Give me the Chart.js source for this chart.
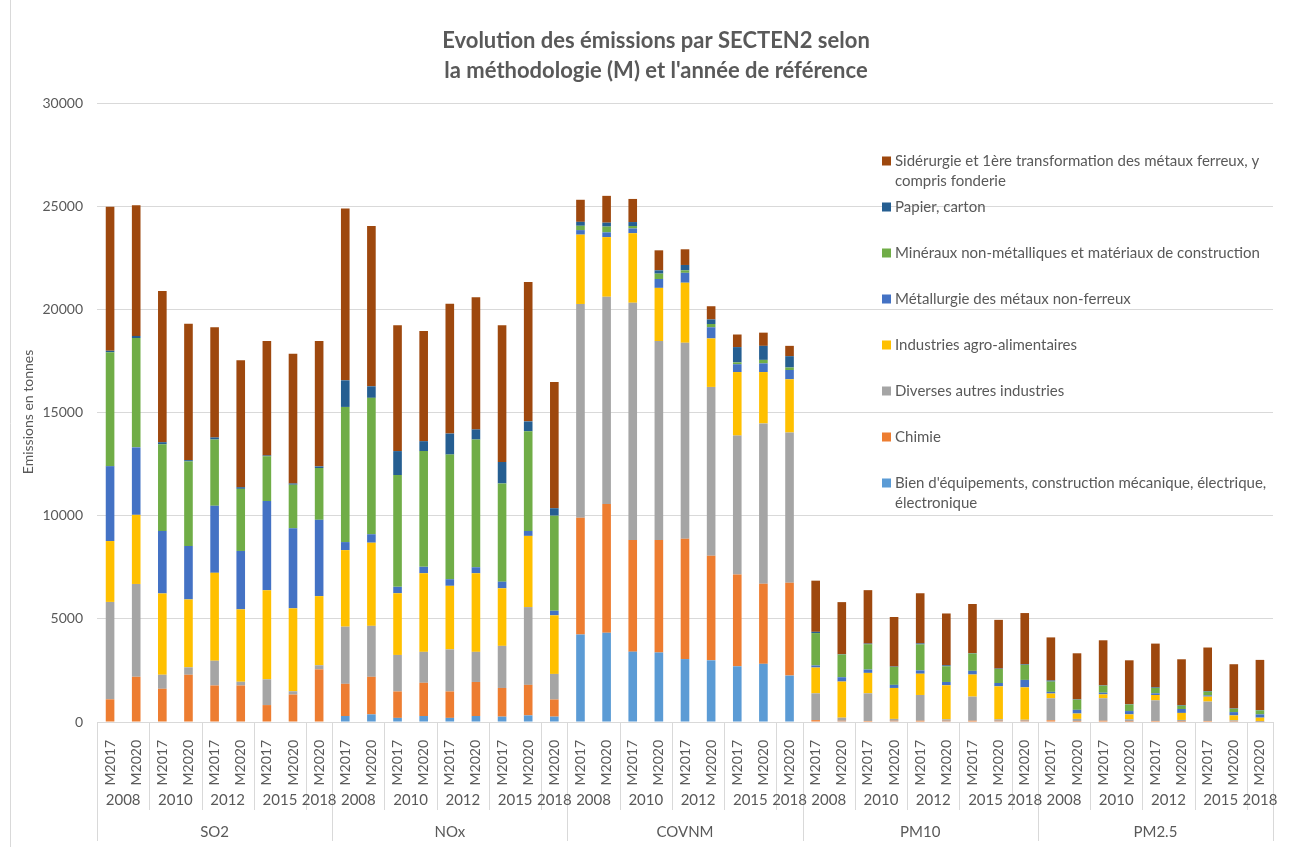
<!DOCTYPE html>
<html>
<head>
<meta charset="utf-8">
<script src="https://cdn.jsdelivr.net/npm/chart.js@4.4.0/dist/chart.umd.min.js"></script>
<style>
  html, body { margin: 0; padding: 0; background: #fff; }
  #wrap { width: 1289px; height: 847px; position: relative; }
</style>
</head>
<body>
<div id="wrap"><canvas id="chart" width="1289" height="847"></canvas></div>
<script>
// --- Data (tonnes), bars ordered SO2, NOx, COVNM, PM10, PM2.5 ---
const pollutants = ["SO2", "NOx", "COVNM", "PM10", "PM2.5"];
const years = ["2008", "2010", "2012", "2015", "2018"];
const methods = [["M2017", "M2020"], ["M2017", "M2020"], ["M2017", "M2020"], ["M2017", "M2020"], ["M2020"]];
const yTicks = [0, 5000, 10000, 15000, 20000, 25000, 30000];

const bienEquipements = [
  0, 0, 0, 0, 0, 0, 0, 0, 0,
  290, 370, 200, 290, 200, 290, 260, 320, 260,
  4240, 4330, 3410, 3370, 3050, 2990, 2700, 2820, 2250,
  0, 30, 0, 30, 0, 30, 0, 30, 30,
  0, 20, 0, 20, 0, 20, 0, 20, 10
];
const chimie = [
  1100, 2190, 1610, 2290, 1770, 1770, 820, 1330, 2550,
  1560, 1820, 1280, 1610, 1280, 1650, 1390, 1480, 830,
  5660, 6230, 5410, 5450, 5830, 5070, 4450, 3880, 4500,
  90, 30, 50, 30, 60, 30, 60, 30, 30,
  80, 30, 60, 30, 50, 30, 50, 20, 20
];
const diverses = [
  4720, 4500, 680, 360, 1200, 180, 1250, 160, 200,
  2770, 2470, 1770, 1500, 2040, 1460, 2040, 3770, 1240,
  10360, 10050, 11500, 9640, 9500, 8180, 6730, 7770, 7280,
  1300, 150, 1340, 90, 1250, 70, 1170, 70, 50,
  1070, 100, 1090, 80, 1000, 50, 940, 40, 20
];
const agroAlim = [
  2950, 3350, 3940, 3290, 4260, 3510, 4320, 4020, 3350,
  3710, 4030, 2990, 3810, 3080, 3810, 2790, 3450, 2840,
  3360, 2890, 3370, 2580, 2910, 2350, 3080, 2490, 2580,
  1250, 1750, 990, 1500, 1030, 1650, 1070, 1600, 1570,
  230, 260, 190, 240, 260, 340, 240, 240, 160
];
const metallurgie = [
  3630, 3270, 3030, 2590, 3250, 2830, 4320, 3880, 3700,
  390, 410, 310, 310, 320, 290, 320, 240, 220,
  220, 230, 230, 430, 480, 540, 380, 420, 450,
  100, 210, 160, 150, 160, 160, 180, 160, 360,
  80, 180, 80, 160, 80, 190, 60, 160, 160
];
const mineraux = [
  5520, 5300, 4200, 4100, 3210, 3010, 2170, 2110, 2510,
  6550, 6610, 5420, 5610, 6040, 6190, 4760, 4830, 4610,
  210, 280, 120, 260, 120, 160, 90, 170, 120,
  1570, 1100, 1230, 870, 1260, 760, 840, 680, 730,
  500, 490, 340, 320, 260, 160, 180, 160, 190
];
const papier = [
  70, 100, 100, 60, 100, 80, 40, 60, 80,
  1290, 560, 1160, 480, 1020, 490, 1040, 480, 360,
  190, 190, 190, 160, 260, 220, 740, 680, 550,
  60, 20, 30, 20, 50, 50, 20, 20, 30,
  50, 20, 20, 20, 30, 30, 30, 20, 20
];
const siderurgie = [
  6980, 6330, 7330, 6610, 5340, 6150, 5540, 6290, 6070,
  8330, 7770, 6100, 5340, 6290, 6410, 6630, 6750, 6120,
  1070, 1300, 1120, 970, 760, 640, 610, 640, 500,
  2480, 2520, 2590, 2400, 2430, 2510, 2380, 2360, 2480,
  2090, 2230, 2180, 2120, 2120, 2220, 2110, 2140, 2430
];

const series = [
  { label: "Bien d'équipements, construction mécanique, électrique, électronique", data: bienEquipements, color: "#5B9BD5" },
  { label: "Chimie", data: chimie, color: "#ED7D31" },
  { label: "Diverses autres industries", data: diverses, color: "#A5A5A5" },
  { label: "Industries agro-alimentaires", data: agroAlim, color: "#FFC000" },
  { label: "Métallurgie des métaux non-ferreux", data: metallurgie, color: "#4472C4" },
  { label: "Minéraux non-métalliques et matériaux de construction", data: mineraux, color: "#70AD47" },
  { label: "Papier, carton", data: papier, color: "#255E91" },
  { label: "Sidérurgie et 1ère transformation des métaux ferreux, y compris fonderie", data: siderurgie, color: "#9E480E" }
];

// build flat category labels + group info
const labels = [];
const yearGroups = [];   // {start, end, text}
const pollGroups = [];
pollutants.forEach(p => {
  const pStart = labels.length;
  years.forEach((y, i) => {
    const yStart = labels.length;
    methods[i].forEach(m => labels.push(m));
    yearGroups.push({ start: yStart, end: labels.length - 1, text: y });
  });
  pollGroups.push({ start: pStart, end: labels.length - 1, text: p });
});

const textColor = "#595959";
const gridColor = "#d9d9d9";
const fontFamily = "Lato, 'Open Sans', sans-serif";

function wrapText(ctx, text, maxWidth) {
  const words = text.split(" ");
  const lines = [];
  let line = "";
  words.forEach(w => {
    const test = line ? line + " " + w : w;
    if (ctx.measureText(test).width > maxWidth && line) {
      lines.push(line);
      line = w;
    } else {
      line = test;
    }
  });
  if (line) lines.push(line);
  return lines;
}

const decorations = {
  id: "decorations",
  beforeDraw(chart) {
    const ctx = chart.ctx;
    ctx.save();
    ctx.fillStyle = "#fff";
    ctx.fillRect(0, 0, chart.width, chart.height);
    ctx.strokeStyle = gridColor;
    ctx.lineWidth = 1;
    ctx.beginPath();
    ctx.moveTo(10.5, 0);
    ctx.lineTo(10.5, chart.height);
    ctx.stroke();
    ctx.restore();
  },
  afterDraw(chart) {
    const ctx = chart.ctx;
    const area = chart.chartArea;
    const xs = chart.scales.x;
    ctx.save();

    // title
    ctx.fillStyle = textColor;
    ctx.textAlign = "center";
    ctx.textBaseline = "middle";
    ctx.font = "bold 22px " + fontFamily;
    ctx.fillText("Evolution des émissions par SECTEN2 selon", 656, 41);
    ctx.fillText("la méthodologie (M) et l'année de référence", 656, 71);

    // y axis title
    ctx.save();
    ctx.translate(28, 412);
    ctx.rotate(-Math.PI / 2);
    ctx.font = "14px " + fontFamily;
    ctx.fillText("Emissions en tonnes", 0, 0);
    ctx.restore();

    // multi-level x axis
    const half = (xs.getPixelForValue(1) - xs.getPixelForValue(0)) / 2;
    const edge = i => xs.getPixelForValue(i) - half;
    ctx.strokeStyle = gridColor;
    ctx.lineWidth = 1;
    yearGroups.forEach(g => {
      const x = Math.round(edge(g.start)) + 0.5;
      ctx.beginPath();
      ctx.moveTo(x, area.bottom);
      ctx.lineTo(x, area.bottom + 88);
      ctx.stroke();
    });
    pollGroups.forEach(g => {
      const x = Math.round(edge(g.start)) + 0.5;
      ctx.beginPath();
      ctx.moveTo(x, area.bottom);
      ctx.lineTo(x, area.bottom + 119);
      ctx.stroke();
    });
    const xr = Math.round(area.right) + 0.5;
    ctx.beginPath();
    ctx.moveTo(xr, area.bottom);
    ctx.lineTo(xr, area.bottom + 119);
    ctx.stroke();

    ctx.fillStyle = textColor;
    ctx.font = "15px " + fontFamily;
    ctx.textAlign = "center";
    yearGroups.forEach(g => {
      const cx = (xs.getPixelForValue(g.start) + xs.getPixelForValue(g.end)) / 2;
      ctx.fillText(g.text, cx, area.bottom + 78);
    });
    pollGroups.forEach(g => {
      const cx = (xs.getPixelForValue(g.start) + xs.getPixelForValue(g.end)) / 2;
      ctx.fillText(g.text, cx, area.bottom + 110);
    });

    // legend (top entry = last dataset)
    ctx.font = "15px " + fontFamily;
    ctx.textAlign = "left";
    const items = chart.data.datasets.slice().reverse();
    items.forEach((ds, i) => {
      const y0 = 161 + i * 46;
      ctx.fillStyle = ds.backgroundColor;
      ctx.fillRect(882, y0 - 4.5, 9, 9);
      ctx.fillStyle = textColor;
      const lines = wrapText(ctx, ds.label, 372);
      lines.forEach((ln, k) => ctx.fillText(ln, 895, y0 + k * 20));
    });

    ctx.restore();
  }
};

new Chart(document.getElementById("chart"), {
  type: "bar",
  data: {
    labels: labels,
    datasets: series.map(s => ({
      label: s.label,
      data: s.data,
      backgroundColor: s.color,
      barPercentage: 0.33,
      categoryPercentage: 1.0
    }))
  },
  options: {
    responsive: false,
    animation: false,
    devicePixelRatio: 1,
    layout: { padding: { left: 0, right: 16, top: 103, bottom: 0 } },
    plugins: {
      legend: { display: false },
      title: { display: false },
      tooltip: { enabled: false }
    },
    scales: {
      x: {
        stacked: true,
        grid: { display: false },
        border: { display: false },
        ticks: {
          autoSkip: false,
          minRotation: 90,
          maxRotation: 90,
          padding: 10,
          color: textColor,
          font: { family: fontFamily, size: 14 }
        },
        afterFit: s => { s.height = 125; }
      },
      y: {
        stacked: true,
        min: 0,
        max: 30000,
        afterBuildTicks: s => { s.ticks = yTicks.map(v => ({ value: v })); },
        grid: { color: gridColor, drawTicks: false },
        border: { display: false },
        ticks: {
          padding: 14,
          color: textColor,
          font: { family: fontFamily, size: 14 },
          callback: v => String(v)
        },
        afterFit: s => { s.width = 97; }
      }
    }
  },
  plugins: [decorations]
});
</script>
</body>
</html>
